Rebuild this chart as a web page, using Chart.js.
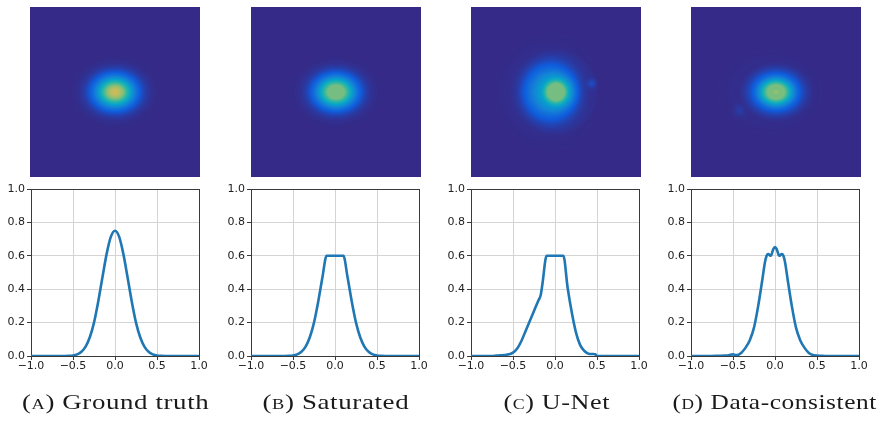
<!DOCTYPE html>
<html>
<head>
<meta charset="utf-8">
<script src="https://cdn.jsdelivr.net/npm/chart.js@4.4.1/dist/chart.umd.min.js"></script>
<style>
body{margin:0;width:884px;height:421px;background:#fff;position:relative;overflow:hidden}
canvas{position:absolute}
.cap{position:absolute;top:390px;font-family:"Liberation Serif",serif;font-size:22px;line-height:24px;white-space:nowrap;color:#1a1a1a;letter-spacing:0.5px;transform-origin:center}
.sc{font-variant:small-caps}
</style>
</head>
<body>
<canvas id="imgA" width="170" height="170" style="left:30px;top:7px"></canvas>
<canvas id="imgB" width="170" height="170" style="left:251px;top:7px"></canvas>
<canvas id="imgC" width="170" height="170" style="left:471px;top:7px"></canvas>
<canvas id="imgD" width="170" height="170" style="left:691px;top:7px"></canvas>
<canvas id="lineA" width="240" height="211" style="left:-9px;top:175px"></canvas>
<canvas id="lineB" width="240" height="211" style="left:211px;top:175px"></canvas>
<canvas id="lineC" width="240" height="211" style="left:431px;top:175px"></canvas>
<canvas id="lineD" width="240" height="211" style="left:651px;top:175px"></canvas>
<div class="cap" id="capA">(<span class="sc">a</span>) Ground truth</div>
<div class="cap" id="capB">(<span class="sc">b</span>) Saturated</div>
<div class="cap" id="capC">(<span class="sc">c</span>) U-Net</div>
<div class="cap" id="capD">(<span class="sc">d</span>) Data-consistent</div>
<script>
// profiles
const groundX = [-1,-0.9,-0.8,-0.7,-0.6,-0.55,-0.5,-0.45,-0.4,-0.35,-0.3,-0.25,-0.2,-0.15,-0.1,-0.05,0,0.05,0.1,0.15,0.2,0.25,0.3,0.35,0.4,0.45,0.5,0.55,0.6,0.7,0.8,0.9,1];
const groundY = [0,0,0,0,0,0.001,0.003,0.01,0.025,0.056,0.112,0.2,0.325,0.47,0.61,0.713,0.75,0.713,0.61,0.47,0.325,0.2,0.112,0.056,0.025,0.01,0.003,0.001,0,0,0,0,0];

const satX = [-1,-0.9,-0.8,-0.7,-0.6,-0.55,-0.5,-0.45,-0.4,-0.35,-0.3,-0.25,-0.2,-0.15,-0.1,-0.05,0,0.05,0.1,0.15,0.2,0.25,0.3,0.35,0.4,0.45,0.5,0.55,0.6,0.7,0.8,0.9,1];
const satY = [0,0,0,0,0,0.001,0.003,0.01,0.025,0.056,0.112,0.2,0.325,0.47,0.6,0.6,0.6,0.6,0.6,0.47,0.325,0.2,0.112,0.056,0.025,0.01,0.003,0.001,0,0,0,0,0];

const unetX = [-1,-0.9,-0.8,-0.75,-0.7,-0.65,-0.6,-0.55,-0.5,-0.45,-0.4,-0.35,-0.3,-0.25,-0.2,-0.17,-0.15,-0.1,-0.05,0,0.05,0.1,0.15,0.2,0.25,0.3,0.35,0.4,0.45,0.48,0.5,0.6,0.7,0.8,0.9,1];
const unetY = [0,0,0,0,0.002,0.004,0.006,0.01,0.02,0.045,0.09,0.15,0.21,0.27,0.33,0.365,0.43,0.6,0.6,0.6,0.6,0.6,0.41,0.26,0.14,0.065,0.03,0.014,0.012,0.01,0,0,0,0,0,0];

const dcX = [-1,-0.9,-0.8,-0.7,-0.6,-0.55,-0.5,-0.47,-0.45,-0.4,-0.35,-0.3,-0.25,-0.2,-0.15,-0.12,-0.1,-0.08,-0.05,-0.02,0,0.02,0.05,0.08,0.1,0.12,0.15,0.2,0.25,0.3,0.35,0.4,0.45,0.5,0.55,0.6,0.7,0.8,0.9,1];
const dcY = [0,0,0,0.001,0.003,0.005,0.01,0.006,0.006,0.02,0.05,0.095,0.17,0.3,0.46,0.56,0.6,0.61,0.6,0.64,0.652,0.64,0.6,0.61,0.6,0.56,0.46,0.3,0.17,0.095,0.05,0.02,0.006,0.002,0.001,0,0,0,0,0];

// small off-centre blobs seen in the images: [x, y, value, radius]
const unetSpots = [[0.42, 0.1, 0.07, 0.035]];
const dcSpots = [[-0.43, -0.22, 0.035, 0.045]];

const xTicks = [-1, -0.5, 0, 0.5, 1];
const yTicks = [0, 0.2, 0.4, 0.6, 0.8, 1];

const parula = ['#352a87','#0f5cdd','#1481d6','#06a4ca','#2eb7a4','#87bf77','#d1bb59','#fec832','#f9fb0e'];
const cmap = parula.map(h => [1,3,5].map(i => parseInt(h.substr(i,2),16)));

function colorAt(v) {
    v = Math.max(0, Math.min(1, v));
    const t = v * (cmap.length - 1);
    const i = Math.min(Math.floor(t), cmap.length - 2);
    const f = t - i;
    return cmap[i].map((c,k) => Math.round(c + (cmap[i+1][k] - c) * f));
}

function lookup(xs, ys, x) {
    if (x <= xs[0]) return ys[0];
    for (let i = 1; i < xs.length; i++) {
        if (x <= xs[i]) {
            const f = (x - xs[i-1]) / (xs[i] - xs[i-1]);
            return ys[i-1] + (ys[i] - ys[i-1]) * f;
        }
    }
    return ys[ys.length-1];
}

function makeHeat(xs, ys, ky, spots) {
    return {
        id: 'heat',
        beforeDatasetsDraw(chart) {
            const a = chart.chartArea, sx = chart.scales.x, sy = chart.scales.y;
            const w = Math.round(a.right - a.left), h = Math.round(a.bottom - a.top);
            const img = chart.ctx.createImageData(w, h);
            for (let py = 0; py < h; py++) {
                const yv = sy.getValueForPixel(a.top + py + 0.5);
                for (let px = 0; px < w; px++) {
                    const xv = sx.getValueForPixel(a.left + px + 0.5);
                    const r = Math.sqrt(xv*xv + ky*ky*yv*yv);
                    // blend the left and right half-profiles by direction
                    const c0 = r > 0 ? xv / r : 0;
                    const wl = (1 - c0) / 2;
                    let v = wl * lookup(xs, ys, -r) + (1 - wl) * lookup(xs, ys, r);
                    spots.forEach(s => {
                        const d2 = (xv-s[0])*(xv-s[0]) + (yv-s[1])*(yv-s[1]);
                        v += s[2] * Math.exp(-d2 / (2*s[3]*s[3]));
                    });
                    const c = colorAt(v), k = (py*w + px) * 4;
                    img.data[k] = c[0]; img.data[k+1] = c[1]; img.data[k+2] = c[2]; img.data[k+3] = 255;
                }
            }
            chart.ctx.putImageData(img, a.left, a.top);
        }
    };
}

function heatChart(id, xs, ys, ky, spots) {
    new Chart(document.getElementById(id), {
        type: 'scatter',
        data: { datasets: [{ data: [] }] },
        options: {
            responsive: false,
            animation: false,
            layout: { padding: 0 },
            plugins: { legend: { display: false }, tooltip: { enabled: false } },
            scales: {
                x: { type: 'linear', min: -1, max: 1, display: false },
                y: { type: 'linear', min: -1, max: 1, display: false }
            }
        },
        plugins: [makeHeat(xs, ys, ky, spots)]
    });
}

const framePlugin = {
    id: 'frame',
    beforeDatasetsDraw(chart) {
        const { ctx, chartArea: a } = chart;
        ctx.save();
        ctx.strokeStyle = '#3a3a3a';
        ctx.lineWidth = 1;
        ctx.strokeRect(a.left + 0.5, a.top + 0.5, a.right - a.left, a.bottom - a.top);
        ctx.restore();
    }
};

function fmt(v) {
    return v.toFixed(1).replace('-', '\u2212');
}

const tickFont = { family: 'DejaVu Sans', size: 11 };

function lineChart(id, xs, ys) {
    new Chart(document.getElementById(id), {
        type: 'line',
        data: {
            datasets: [{
                data: xs.map((x, i) => ({ x: x, y: ys[i] })),
                borderColor: '#1f77b4',
                borderWidth: 2.6,
                pointRadius: 0,
                cubicInterpolationMode: 'monotone',
                fill: false
            }]
        },
        options: {
            responsive: false,
            animation: false,
            layout: { padding: { top: 14, right: 32, left: 0, bottom: 0 } },
            plugins: { legend: { display: false }, tooltip: { enabled: false } },
            scales: {
                x: {
                    type: 'linear', min: -1, max: 1,
                    afterBuildTicks: s => { s.ticks = xTicks.map(v => ({ value: v })); },
                    afterFit: s => { s.height = 30; },
                    ticks: { font: tickFont, color: '#222', padding: 0, maxRotation: 0, autoSkip: false, callback: fmt },
                    grid: { color: '#d4d4d4', lineWidth: 1, tickLength: 4, tickColor: '#3a3a3a' },
                    border: { display: false }
                },
                y: {
                    type: 'linear', min: 0, max: 1,
                    afterBuildTicks: s => { s.ticks = yTicks.map(v => ({ value: v })); },
                    afterFit: s => { s.width = 40; },
                    ticks: { font: tickFont, color: '#222', padding: 2, autoSkip: false, callback: fmt },
                    grid: { color: '#d4d4d4', lineWidth: 1, tickLength: 4, tickColor: '#3a3a3a' },
                    border: { display: false }
                }
            }
        },
        plugins: [framePlugin]
    });
}

heatChart('imgA', groundX, groundY, 1.25, []);
heatChart('imgB', satX, satY, 1.25, []);
heatChart('imgC', unetX, unetY, 1.0, unetSpots);
heatChart('imgD', dcX, dcY, 1.25, dcSpots);

lineChart('lineA', groundX, groundY);
lineChart('lineB', satX, satY);
lineChart('lineC', unetX, unetY);
lineChart('lineD', dcX, dcY);

// captions: centre under each column and stretch to the reference width
const capIds = ['capA', 'capB', 'capC', 'capD'];
const capCentre = [115.5, 335.5, 556.5, 774];
const capWidth = [187, 147, 107, 204];
capIds.forEach((id, i) => {
    const el = document.getElementById(id);
    const w = el.offsetWidth;
    el.style.left = (capCentre[i] - w / 2) + 'px';
    el.style.transform = 'scaleX(' + (capWidth[i] / w) + ')';
});
</script>
</body>
</html>
